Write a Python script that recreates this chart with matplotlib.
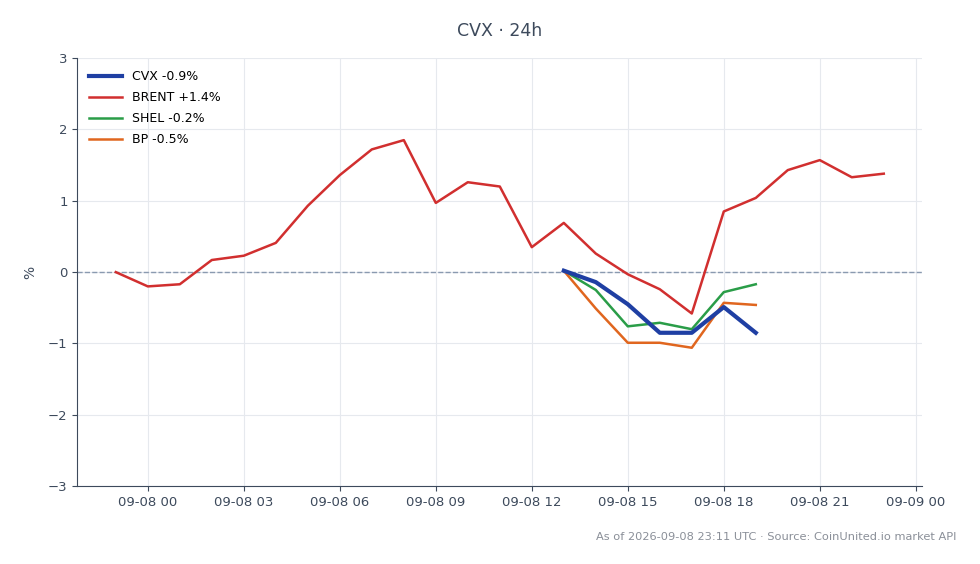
import numpy as np
import pandas as pd
import matplotlib
matplotlib.use("Agg")
import matplotlib.pyplot as plt
import matplotlib.dates as mdates

# hourly % change vs start of window
brent_times = pd.date_range("2026-09-07 23:00", "2026-09-08 23:00", freq="h")
brent = [0.0, -0.2, -0.17, 0.17, 0.23, 0.41, 0.93, 1.36, 1.72, 1.85, 0.97, 1.26, 1.2,
         0.35, 0.69, 0.26, -0.03, -0.24, -0.58, 0.85, 1.04, 1.43, 1.57, 1.33, 1.38]

eq_times = pd.date_range("2026-09-08 13:00", "2026-09-08 19:00", freq="h")
cvx = [0.02, -0.14, -0.45, -0.85, -0.85, -0.49, -0.85]
shel = [0.02, -0.25, -0.76, -0.71, -0.80, -0.28, -0.17]
bp = [0.02, -0.51, -0.99, -0.99, -1.06, -0.43, -0.46]

fig, ax = plt.subplots(figsize=(9.8, 5.64), dpi=100)
fig.subplots_adjust(left=0.079, right=0.941, top=0.897, bottom=0.138)

ax.plot(eq_times, cvx, color="#1f3fa3", lw=3, label="CVX -0.9%", zorder=4)
ax.plot(brent_times, brent, color="#d12f2f", lw=1.8, label="BRENT +1.4%", zorder=3)
ax.plot(eq_times, shel, color="#2a9d48", lw=1.8, label="SHEL -0.2%", zorder=3)
ax.plot(eq_times, bp, color="#e0661f", lw=1.8, label="BP -0.5%", zorder=3)
ax.axhline(0, color="#8a9ab0", lw=1, ls="--", zorder=2)

ax.set_ylim(-3, 3)
ax.set_yticks([-3, -2, -1, 0, 1, 2, 3])
ax.set_ylabel("%", color="#3d4a5c", labelpad=8)
ax.xaxis.set_major_locator(mdates.HourLocator(byhour=range(0, 24, 3)))
ax.xaxis.set_major_formatter(mdates.DateFormatter("%m-%d %H"))
ax.grid(True, color="#e6e9ee", lw=0.8)
ax.set_axisbelow(True)
for s in ["top", "right"]:
    ax.spines[s].set_visible(False)
for s in ["left", "bottom"]:
    ax.spines[s].set_color("#3d4a5c")
ax.tick_params(colors="#3d4a5c", labelsize=9.5)

ax.set_title("CVX · 24h", color="#3d4a5c", fontsize=12.5, pad=16)
ax.legend(loc="upper left", frameon=False, fontsize=9, handlelength=2.6,
          labelspacing=0.65, borderaxespad=0.55, handletextpad=0.8)
fig.text(0.976, 0.048, "As of 2026-09-08 23:11 UTC · Source: CoinUnited.io market API",
         ha="right", va="center", fontsize=8.2, color="#8a8f98")

fig.savefig("out.png", dpi=100)
